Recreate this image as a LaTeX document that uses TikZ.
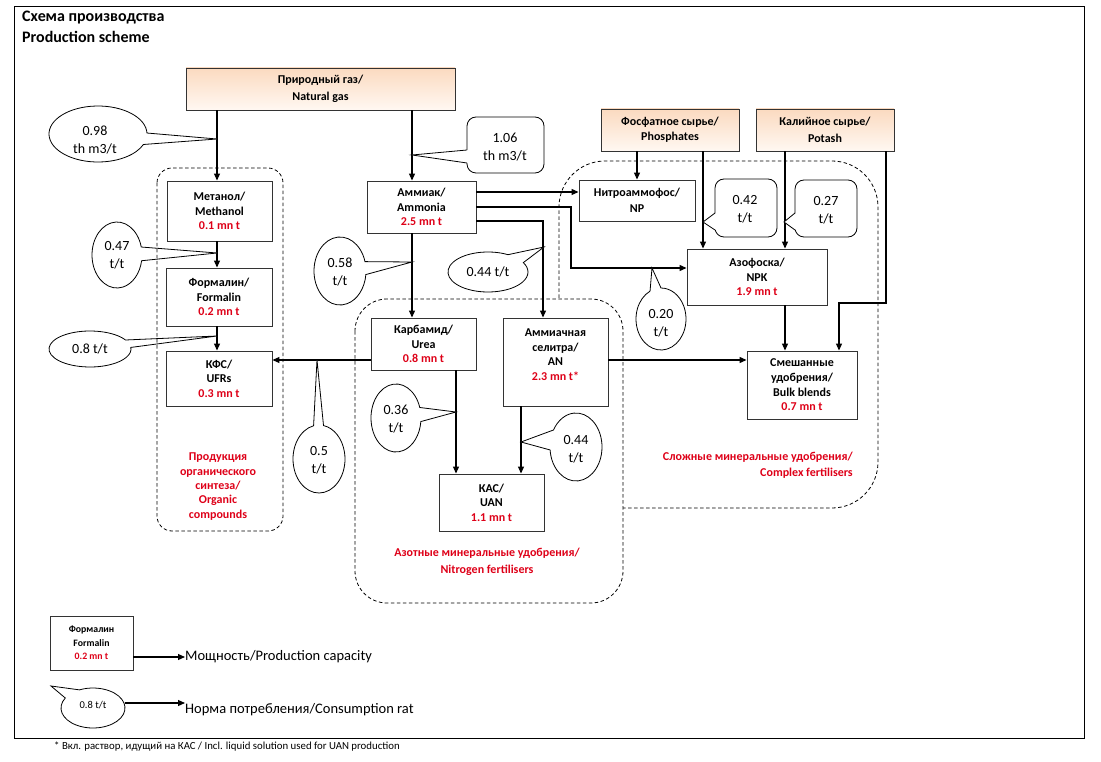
\documentclass[tikz,border=0pt]{standalone}
\usepackage{fontspec}
\setmainfont{Carlito}
\usetikzlibrary{arrows.meta,calc}
\definecolor{capred}{HTML}{DE0018}
\definecolor{peachtop}{HTML}{FBDAC0}
\definecolor{peachbot}{HTML}{FFF8F2}
\definecolor{boxline}{HTML}{333333}
\newcommand\ecallout[7]{%
  \draw[callout] (#1,#2) ++(#5:#3pt and #4pt)
    arc[start angle=#5, end angle={#6+360}, x radius=#3pt, y radius=#4pt] -- (#7) -- cycle;}
\newcommand\rcallout[7]{%
  \draw[callout, rounded corners=9pt] (#1,#2) rectangle (#3,#4);
  \fill[white] ($(#1,#5)+(1pt,0)$) -- (#7) -- ($(#1,#6)+(1pt,0)$) -- cycle;
  \draw[callout, fill=none] (#1,#5) -- (#7) -- (#1,#6);}
\begin{document}
\begin{tikzpicture}[x=1pt,y=-1pt,
  pbox/.style={draw=boxline, line width=0.9pt, fill=white, inner sep=0pt, align=center,
    font=\bfseries\fontsize{12}{14.6}\selectfont},
  srcbox/.style={pbox, top color=peachtop, bottom color=peachbot},
  conn/.style={line width=1.1pt, draw=black},
  arr/.style={conn, -{Triangle[length=7pt,width=6pt]}},
  callout/.style={draw=black, line width=0.8pt, fill=white},
  ctext/.style={font=\fontsize{14}{18}\selectfont, align=center, inner sep=0pt},
  grp/.style={draw=black, line width=0.8pt, dash pattern=on 3.5pt off 2.5pt},
  grplabel/.style={text=capred, font=\bfseries\fontsize{12}{14.3}\selectfont, align=center, inner sep=0pt},
]
\useasboundingbox (0,0) rectangle (1101,762);
\draw[line width=1pt] (14,7) rectangle (1084,738);
\node[anchor=west, inner sep=0pt, font=\bfseries\fontsize{16}{18}\selectfont] (title1) at (22,18) {Схема производства};
\node[anchor=west, inner sep=0pt, font=\bfseries\fontsize{16}{18}\selectfont] (title2) at (22,37) {Production scheme};

% boxes
\node[srcbox, minimum width=269pt, minimum height=42pt] (gas) at (320.5,89) {Природный газ/\\[2.5pt]Natural gas};
\node[srcbox, minimum width=138pt, minimum height=42pt] (phos) at (670,130) {Фосфатное сырье/\\Phosphates};
\node[srcbox, minimum width=138pt, minimum height=42pt] (potash) at (825,130) {Калийное сырье/\\[2.5pt]Potash};
\node[pbox, minimum width=105pt, minimum height=60pt] (meth) at (219.5,211) {Метанол/\\Methanol\\\textcolor{capred}{0.1 mn t}};
\node[pbox, minimum width=106pt, minimum height=58pt] (form) at (219,297) {Формалин/\\Formalin\\\textcolor{capred}{0.2 mn t}};
\node[pbox, minimum width=106pt, minimum height=55pt] (ufr) at (219,378.5) {КФС/\\UFRs\\\textcolor{capred}{0.3 mn t}};
\node[pbox, minimum width=109pt, minimum height=52pt] (amm) at (421.5,207) {Аммиак/\\Ammonia\\\textcolor{capred}{2.5 mn t}};
\node[pbox, minimum width=116pt, minimum height=41pt] (np) at (637,200.5) {Нитроаммофос/\\[1.5pt]NP};
\node[pbox, minimum width=140pt, minimum height=56pt] (npk) at (757,277) {Азофоска/\\NPK\\\textcolor{capred}{1.9 mn t}};
\node[pbox, minimum width=105pt, minimum height=52pt] (urea) at (423.5,344) {Карбамид/\\Urea\\\textcolor{capred}{0.8 mn t}};
\node[pbox, minimum width=105pt, minimum height=88pt] (an) at (555.5,362) {Аммиачная\\селитра/\\AN\\\textcolor{capred}{2.3 mn t*}\\\mbox{}};
\node[pbox, minimum width=110pt, minimum height=68pt] (bulk) at (802,385) {Смешанные\\удобрения/\\Bulk blends\\\textcolor{capred}{0.7 mn t}};
\node[pbox, minimum width=105pt, minimum height=57pt] (uan) at (491.5,502.5) {КАС/\\UAN\\\textcolor{capred}{1.1 mn t}};
\node[pbox, minimum width=83pt, minimum height=54pt, font=\bfseries\fontsize{9.8}{13.5}\selectfont] (legbox) at (91.5,643) {Формалин\\Formalin\\\textcolor{capred}{0.2 mn t}};

% helper coordinates
\coordinate (cA) at (217,0); \coordinate (cB) at (412,0); \coordinate (cC) at (456,0);
\coordinate (cD) at (521,0); \coordinate (cE) at (543,0); \coordinate (cF) at (571,0);
\coordinate (cG) at (637,0); \coordinate (cH) at (703,0); \coordinate (cI) at (785,0);
\coordinate (cJ) at (839,0); \coordinate (cK) at (886,0);
\coordinate (r192) at (0,192); \coordinate (r207) at (0,207); \coordinate (r221) at (0,221);
\coordinate (r268) at (0,268); \coordinate (r360) at (0,360); \coordinate (r303) at (0,303);

% connectors
\draw[arr] (gas.south -| cA) -- (meth.north -| cA);
\draw[arr] (gas.south -| cB) -- (amm.north -| cB);
\draw[arr] (meth.south -| cA) -- (form.north -| cA);
\draw[arr] (form.south -| cA) -- (ufr.north -| cA);
\draw[arr] (amm.east |- r192) -- (np.west |- r192);
\draw[arr] (amm.east |- r207) -| (cF |- r268) -- (npk.west |- r268);
\draw[arr] (amm.east |- r221) -| (an.north -| cE);
\draw[arr] (amm.south -| cB) -- (urea.north -| cB);
\draw[arr] (urea.west |- r360) -- (ufr.east |- r360);
\draw[arr] (an.east |- r360) -- (bulk.west |- r360);
\draw[arr] (urea.south -| cC) -- (uan.north -| cC);
\draw[arr] (an.south -| cD) -- (uan.north -| cD);
\draw[arr] (phos.south -| cG) -- (np.north -| cG);
\draw[arr] (phos.south -| cH) -- (npk.north -| cH);
\draw[arr] (potash.south -| cI) -- (npk.north -| cI);
\draw[arr] (npk.south -| cI) -- (bulk.north -| cI);
\draw[arr] (potash.south -| cK) -- (cK |- r303) -| (bulk.north -| cJ);

% callout tips
\coordinate (t098) at (217,139); \coordinate (t106) at (412,155);
\coordinate (t047) at (217,253); \coordinate (t08) at (217,336);
\coordinate (t058) at (412,262); \coordinate (t044a) at (544,247);
\coordinate (t05) at (317,360); \coordinate (t020) at (652,268);
\coordinate (t036) at (456,412); \coordinate (t044b) at (521,442);
\coordinate (t042) at (703,222); \coordinate (t027) at (784,222);
\coordinate (tleg) at (51,686);

% callouts
\ecallout{98}{134}{49}{28}{2}{-22}{t098}
\node[ctext] (c098) at (95,140.5) {0.98\\th m3/t};
\rcallout{467}{117}{544}{173}{150}{163}{t106}
\node[ctext] (c106) at (505,147.5) {1.06\\th m3/t};
\ecallout{117}{255}{25}{33}{14}{-10}{t047}
\node[ctext] (c047) at (117,255) {0.47\\t/t};
\ecallout{90}{349}{41}{18}{30}{5}{t08}
\node[ctext] (c08) at (90,349) {0.8 t/t};
\ecallout{340}{271}{26}{34}{16}{-6}{t058}
\node[ctext] (c058) at (340,272) {0.58\\t/t};
\ecallout{488}{272}{40}{20}{60}{28}{t044a}
\node[ctext] (c044a) at (488,272) {0.44 t/t};
\ecallout{319}{459}{26}{34}{102}{80}{t05}
\node[ctext] (c05) at (319,460.5) {0.5\\t/t};
\ecallout{661}{319}{25}{31}{116}{90}{t020}
\node[ctext] (c020) at (661,323) {0.20\\t/t};
\ecallout{396}{418}{25}{34}{18}{-6}{t036}
\node[ctext] (c036) at (396,419.5) {0.36\\t/t};
\ecallout{576}{447}{26}{34}{185}{150}{t044b}
\node[ctext] (c044b) at (576,449.5) {0.44\\t/t};
\rcallout{715}{179}{777}{237}{213}{230}{t042}
\node[ctext] (c042) at (745,209.5) {0.42\\t/t};
\rcallout{795}{180}{857}{237}{213}{230}{t027}
\node[ctext] (c027) at (826,210.5) {0.27\\t/t};

% groups
\draw[grp, rounded corners=15pt] (157,168) rectangle (283,531);
\draw[grp, rounded corners=32pt] (355,299) rectangle (623,603);
\draw[grp, rounded corners=46pt] (559,298) -- (559,161) -- (878,161) -- (878,508) -- (623,508);

% group labels
\node[grplabel] (orglab) at (218,486.5) {Продукция\\органического\\синтеза/\\Organic\\compounds};
\node[grplabel] (nitlab) at (487,561.5) {Азотные минеральные удобрения/\\[2.5pt]Nitrogen fertilisers};
\node[grplabel, align=right, anchor=east] (cpxlab) at (853,465) {Сложные минеральные удобрения/\\[2pt]Complex fertilisers};

% legend
\node[anchor=west, inner sep=0pt, font=\fontsize{14.5}{17}\selectfont] (legcap) at (185,657) {Мощность/Production capacity};
\draw[arr] (legbox.east |- legcap) -- (legcap.west);
\ecallout{93}{708}{32}{20}{150}{115}{tleg}
\node[ctext, font=\fontsize{10.5}{12}\selectfont] (legc) at (93,705) {0.8 t/t};
\coordinate (legce) at (125,703);
\node[anchor=west, inner sep=0pt, font=\fontsize{14.5}{17}\selectfont] (legrate) at (185,710) {Норма потребления/Consumption rat};
\draw[arr] (legce) -- (legrate.west |- legce);

% footnote
\node[inner sep=0pt, font=\fontsize{10.8}{12}\selectfont] (foot) at (227,747) {* Вкл. раствор, идущий на КАС / Incl. liquid solution used for UAN production};
\end{tikzpicture}
\end{document}
